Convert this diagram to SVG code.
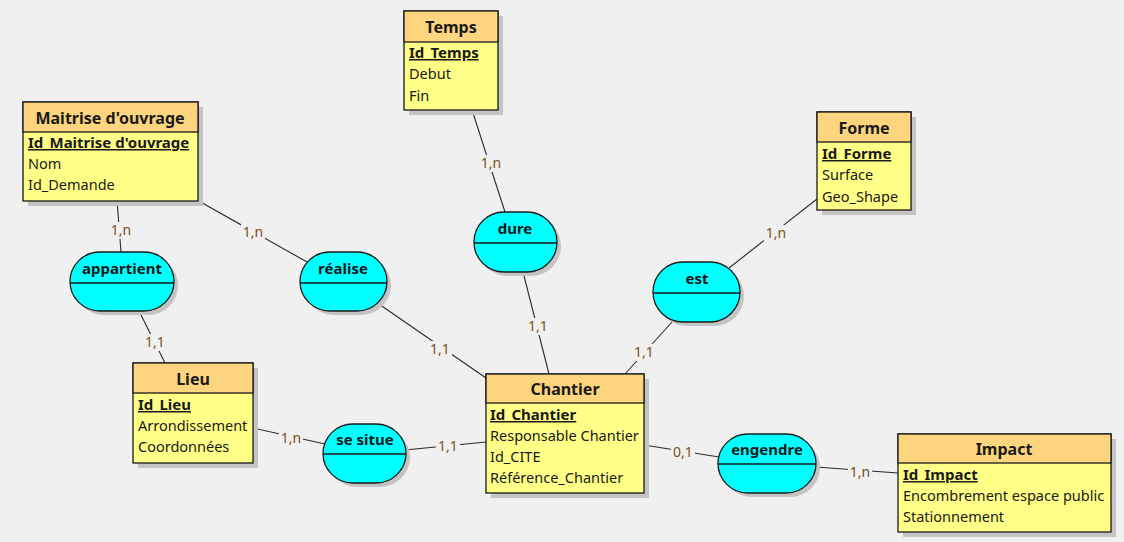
<svg xmlns="http://www.w3.org/2000/svg" width="1124" height="542" viewBox="0 0 1124 542">
<style>
.bg{fill:#f0f0f0}
.sh{fill:#c4c4c4}
.hd{fill:#fdd57e;stroke:#1a1a1a;stroke-width:1.3}
.bd{fill:#ffff88;stroke:#1a1a1a;stroke-width:1.3}
.as{fill:#00ffff;stroke:#1a1a1a;stroke-width:1.3}
.sep{stroke:#1a1a1a;stroke-width:1.3}
.t{font-family:"Noto Sans","DejaVu Sans",sans-serif;fill:#1a1a1a}
.ht{font-size:16px;font-weight:bold;text-anchor:middle}
.at{font-size:14.5px}
.pk{font-size:15px;font-weight:bold;text-decoration:underline}
.an{font-size:15px;font-weight:bold;text-anchor:middle}
.ln{stroke:#2a2a2a;stroke-width:1.1;fill:none}
.lbg{fill:#f0f0f0}
.lb{font-family:"Noto Sans","DejaVu Sans",sans-serif;font-size:14px;fill:#7a4e16;text-anchor:middle}
</style>
<rect class="bg" x="0" y="0" width="1124" height="542"/>
<g id="connectors">
<line class="ln" x1="117" y1="201" x2="121" y2="252"/>
<line class="ln" x1="197" y1="200" x2="307" y2="262"/>
<line class="ln" x1="472" y1="110" x2="505" y2="212"/>
<line class="ln" x1="817" y1="199" x2="729" y2="268"/>
<line class="ln" x1="139" y1="311" x2="165" y2="363"/>
<line class="ln" x1="376" y1="302" x2="486" y2="378"/>
<line class="ln" x1="523" y1="272" x2="549" y2="374"/>
<line class="ln" x1="672" y1="322" x2="625" y2="374"/>
<line class="ln" x1="253" y1="428" x2="325" y2="444"/>
<line class="ln" x1="405" y1="450" x2="486" y2="442"/>
<line class="ln" x1="644" y1="445" x2="719" y2="457"/>
<line class="ln" x1="816" y1="467" x2="898" y2="473"/>
<rect class="lbg" x="109" y="222" width="24" height="17"/>
<rect class="lbg" x="241" y="224" width="24" height="17"/>
<rect class="lbg" x="479" y="155" width="24" height="17"/>
<rect class="lbg" x="764" y="225" width="24" height="17"/>
<rect class="lbg" x="143" y="334" width="24" height="17"/>
<rect class="lbg" x="428" y="341" width="24" height="17"/>
<rect class="lbg" x="526" y="318" width="24" height="17"/>
<rect class="lbg" x="632" y="344" width="24" height="17"/>
<rect class="lbg" x="279" y="430" width="24" height="17"/>
<rect class="lbg" x="436" y="438" width="24" height="17"/>
<rect class="lbg" x="671" y="444" width="24" height="17"/>
<rect class="lbg" x="848" y="464" width="24" height="17"/>
<text class="lb" x="121" y="235">1,n</text>
<text class="lb" x="253" y="237">1,n</text>
<text class="lb" x="491" y="168">1,n</text>
<text class="lb" x="776" y="238">1,n</text>
<text class="lb" x="155" y="347">1,1</text>
<text class="lb" x="440" y="354">1,1</text>
<text class="lb" x="538" y="331">1,1</text>
<text class="lb" x="644" y="357">1,1</text>
<text class="lb" x="291" y="443">1,n</text>
<text class="lb" x="448" y="451">1,1</text>
<text class="lb" x="683" y="457">0,1</text>
<text class="lb" x="860" y="477">1,n</text>
</g>
<g id="maitrise">
<rect class="sh" x="28" y="107" width="175" height="99"/>
<rect class="bd" x="23" y="102" width="175" height="99"/>
<rect class="hd" x="23" y="102" width="175" height="30"/>
<text class="t ht" x="110" y="124">Maitrise d'ouvrage</text>
<text class="t pk" x="28" y="148">Id_Maitrise d'ouvrage</text>
<text class="t at" x="28" y="169">Nom</text>
<text class="t at" x="28" y="190">Id_Demande</text>
</g>
<g id="temps">
<rect class="sh" x="409" y="16" width="94" height="99"/>
<rect class="bd" x="404" y="11" width="94" height="99"/>
<rect class="hd" x="404" y="11" width="94" height="31"/>
<text class="t ht" x="451" y="33">Temps</text>
<text class="t pk" x="409" y="58">Id_Temps</text>
<text class="t at" x="409" y="79">Debut</text>
<text class="t at" x="409" y="101">Fin</text>
</g>
<g id="forme">
<rect class="sh" x="822" y="117" width="94" height="98"/>
<rect class="bd" x="817" y="112" width="94" height="98"/>
<rect class="hd" x="817" y="112" width="94" height="30"/>
<text class="t ht" x="864" y="134">Forme</text>
<text class="t pk" x="822" y="159">Id_Forme</text>
<text class="t at" x="822" y="180">Surface</text>
<text class="t at" x="822" y="202">Geo_Shape</text>
</g>
<g id="lieu">
<rect class="sh" x="138" y="368" width="120" height="100"/>
<rect class="bd" x="133" y="363" width="120" height="100"/>
<rect class="hd" x="133" y="363" width="120" height="30"/>
<text class="t ht" x="193" y="385">Lieu</text>
<text class="t pk" x="138" y="410">Id_Lieu</text>
<text class="t at" x="138" y="431">Arrondissement</text>
<text class="t at" x="138" y="452">Coordonnées</text>
</g>
<g id="chantier">
<rect class="sh" x="491" y="379" width="158" height="119"/>
<rect class="bd" x="486" y="374" width="158" height="119"/>
<rect class="hd" x="486" y="374" width="158" height="29"/>
<text class="t ht" x="565" y="395">Chantier</text>
<text class="t pk" x="490" y="420">Id_Chantier</text>
<text class="t at" x="490" y="441">Responsable Chantier</text>
<text class="t at" x="490" y="462">Id_CITE</text>
<text class="t at" x="490" y="483">Référence_Chantier</text>
</g>
<g id="impact">
<rect class="sh" x="903" y="439" width="213" height="98"/>
<rect class="bd" x="898" y="434" width="213" height="98"/>
<rect class="hd" x="898" y="434" width="213" height="29"/>
<text class="t ht" x="1004" y="455">Impact</text>
<text class="t pk" x="903" y="480">Id_Impact</text>
<text class="t at" x="903" y="501">Encombrement espace public</text>
<text class="t at" x="903" y="522">Stationnement</text>
</g>
<g id="appartient">
<rect class="sh" x="74" y="256" width="104" height="59" rx="30" ry="29.5"/>
<rect class="as" x="70" y="252" width="104" height="59" rx="30" ry="29.5"/>
<line class="sep" x1="70" y1="283" x2="174" y2="283"/>
<text class="t an" x="122" y="274">appartient</text>
</g>
<g id="realise">
<rect class="sh" x="304" y="256" width="87" height="59" rx="30" ry="29.5"/>
<rect class="as" x="300" y="252" width="87" height="59" rx="30" ry="29.5"/>
<line class="sep" x1="300" y1="283" x2="387" y2="283"/>
<text class="t an" x="343" y="274">réalise</text>
</g>
<g id="dure">
<rect class="sh" x="478" y="216" width="83" height="60" rx="30" ry="30"/>
<rect class="as" x="474" y="212" width="83" height="60" rx="30" ry="30"/>
<line class="sep" x1="474" y1="243" x2="557" y2="243"/>
<text class="t an" x="515" y="234">dure</text>
</g>
<g id="est">
<rect class="sh" x="657" y="266" width="87" height="60" rx="30" ry="30"/>
<rect class="as" x="653" y="262" width="87" height="60" rx="30" ry="30"/>
<line class="sep" x1="653" y1="293" x2="740" y2="293"/>
<text class="t an" x="697" y="284">est</text>
</g>
<g id="sesitue">
<rect class="sh" x="327" y="428" width="83" height="59" rx="30" ry="29.5"/>
<rect class="as" x="323" y="424" width="83" height="59" rx="30" ry="29.5"/>
<line class="sep" x1="323" y1="454" x2="406" y2="454"/>
<text class="t an" x="365" y="445">se situe</text>
</g>
<g id="engendre">
<rect class="sh" x="722" y="438" width="98" height="59" rx="30" ry="29.5"/>
<rect class="as" x="718" y="434" width="98" height="59" rx="30" ry="29.5"/>
<line class="sep" x1="718" y1="464" x2="816" y2="464"/>
<text class="t an" x="767" y="455">engendre</text>
</g>
</svg>
